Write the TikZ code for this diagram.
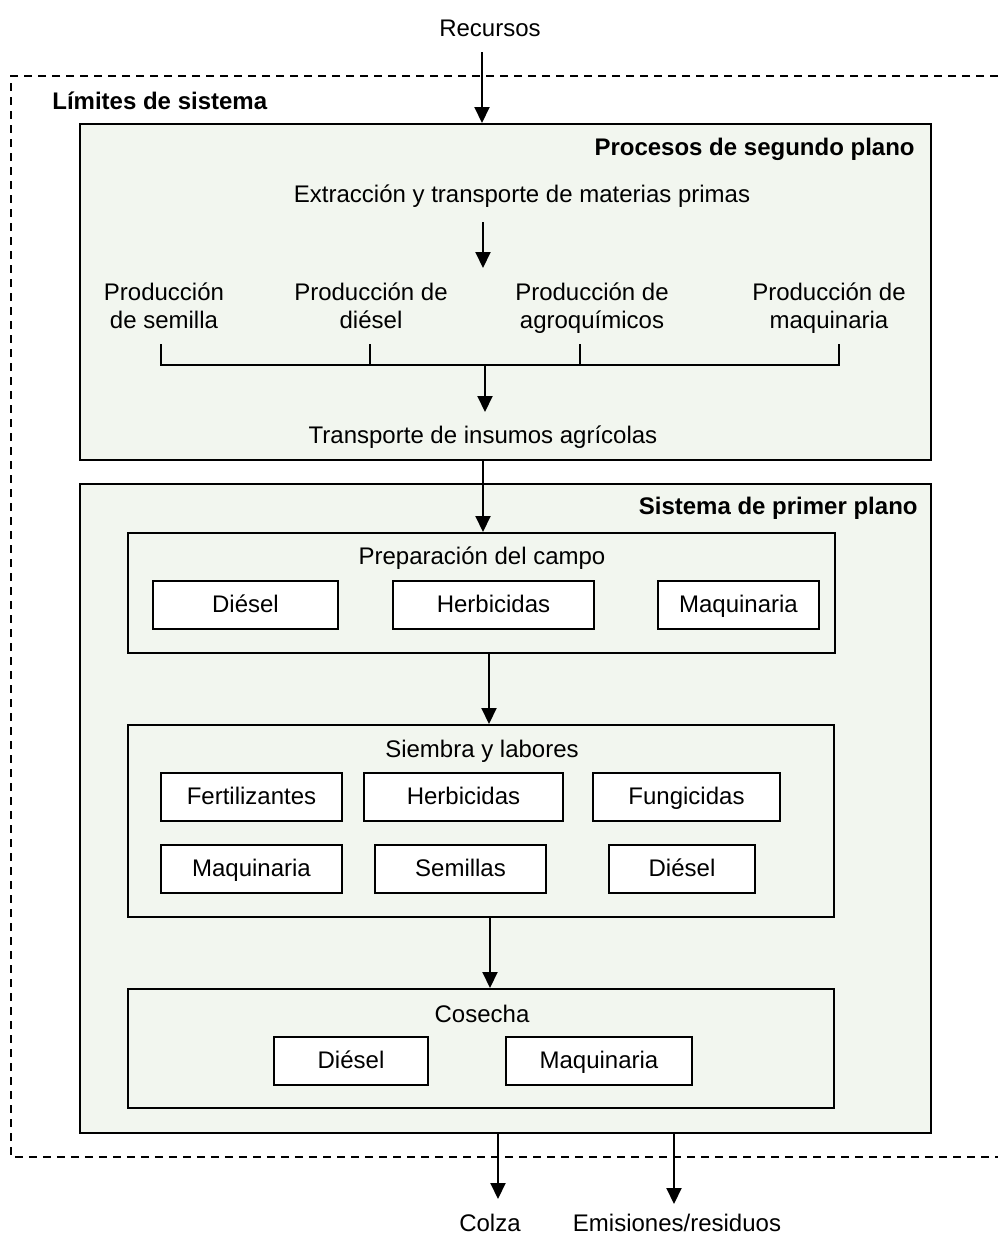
\documentclass[tikz,border=0pt]{standalone}
\usepackage{fontspec}
\setmainfont{Liberation Sans}
\usetikzlibrary{arrows.meta,fit}
\definecolor{bgfill}{HTML}{F2F6EF}
\begin{document}
\begin{tikzpicture}[x=0.5pt,y=-0.5pt,
  font=\fontsize{12}{14}\selectfont,
  frame/.style={draw, line width=1pt, fill=bgfill, inner sep=0pt},
  item/.style={draw, line width=1pt, fill=white, inner sep=0pt, minimum height=24pt, text height=9.6pt, text depth=1.8pt},
  arr/.style={line width=1pt, -{Triangle[length=8pt,width=7.5pt]}},
  txt/.style={inner sep=0pt, align=center},
  ttl/.style={inner sep=0pt, font=\fontsize{12}{14}\selectfont\bfseries},
  bound/.style={line width=0.7pt, dash pattern=on 4pt off 3pt}]
\useasboundingbox (0,0) rectangle (998,1238);

% system boundary
\draw[bound] (998,76) -- (11,76) -- (11,1157) -- (998,1157);
\node[ttl, anchor=west] (lim) at (52,101) {Límites de sistema};

% resources
\node[txt] (rec) at (490,28) {Recursos};
\coordinate (recout) at (482,52);

% background processes
\node[frame, fit={(80,124) (931,460)}] (bg) {};
\node[ttl, anchor=east] (bgt) at (915,149) {Procesos de segundo plano};
\node[txt] (ext) at (522,196) {Extracción y transporte de materias primas};
\coordinate (a1s) at (483,222);
\coordinate (a1e) at (483,268);
\node[txt, anchor=north] (p1) at (164,282) {Producción\\de semilla};
\node[txt, anchor=north] (p2) at (371,282) {Producción de\\diésel};
\node[txt, anchor=north] (p3) at (592,282) {Producción de\\agroquímicos};
\node[txt, anchor=north] (p4) at (829,282) {Producción de\\maquinaria};
\coordinate (t1) at (161,344);
\coordinate (t2) at (370,344);
\coordinate (t3) at (580,344);
\coordinate (t4) at (839,344);
\coordinate (hb) at (485,365);
\node[txt] (tr) at (483,437) {Transporte de insumos agrícolas};

% foreground system
\node[frame, fit={(80,484) (931,1133)}] (fg) {};
\node[ttl, anchor=east] (fgt) at (918,508) {Sistema de primer plano};

\node[frame, fit={(128,533) (835,653)}] (prep) {};
\node[txt] (prept) at (482,558) {Preparación del campo};
\node[item, minimum width=92.5pt] (pd) at (245.5,605) {Diésel};
\node[item, minimum width=100.5pt] (ph) at (493.5,605) {Herbicidas};
\node[item, minimum width=80.5pt] (pm) at (738.5,605) {Maquinaria};

\node[frame, fit={(128,725) (834,917)}] (siem) {};
\node[txt] (siemt) at (482,751) {Siembra y labores};
\node[item, minimum width=90.5pt] (sf) at (251.5,797) {Fertilizantes};
\node[item, minimum width=99.5pt] (sh) at (463.5,797) {Herbicidas};
\node[item, minimum width=93.5pt] (sg) at (686.5,797) {Fungicidas};
\node[item, minimum width=90.5pt] (sm) at (251.5,868.5) {Maquinaria};
\node[item, minimum width=85.5pt] (ss) at (460.5,868.5) {Semillas};
\node[item, minimum width=73pt] (sd) at (682,868.5) {Diésel};

\node[frame, fit={(128,989) (834,1108)}] (cos) {};
\node[txt] (cost) at (482,1014) {Cosecha};
\node[item, minimum width=77pt] (cd) at (351,1061) {Diésel};
\node[item, minimum width=93pt] (cm) at (599,1061) {Maquinaria};

% outputs
\node[txt] (colza) at (490,1223) {Colza};
\node[txt] (emi) at (677,1223) {Emisiones/residuos};

% connectors
\draw[arr] (recout) -- (recout |- bg.north);
\draw[arr] (a1s) -- (a1e);
\draw[line width=1pt] (t1) -- (t1 |- hb) -- (t4 |- hb) -- (t4);
\draw[line width=1pt] (t2) -- (t2 |- hb);
\draw[line width=1pt] (t3) -- (t3 |- hb);
\draw[arr] (hb) -- (485,412);
\draw[arr] (bg.south -| tr) -- (prep.north -| tr);
\draw[arr] (prep.south -| 489,0) -- (siem.north -| 489,0);
\draw[arr] (siem.south -| 490,0) -- (cos.north -| 490,0);
\draw[arr] (fg.south -| 498,0) -- (498,1199);
\draw[arr] (fg.south -| 674,0) -- (674,1204);
\end{tikzpicture}
\end{document}
